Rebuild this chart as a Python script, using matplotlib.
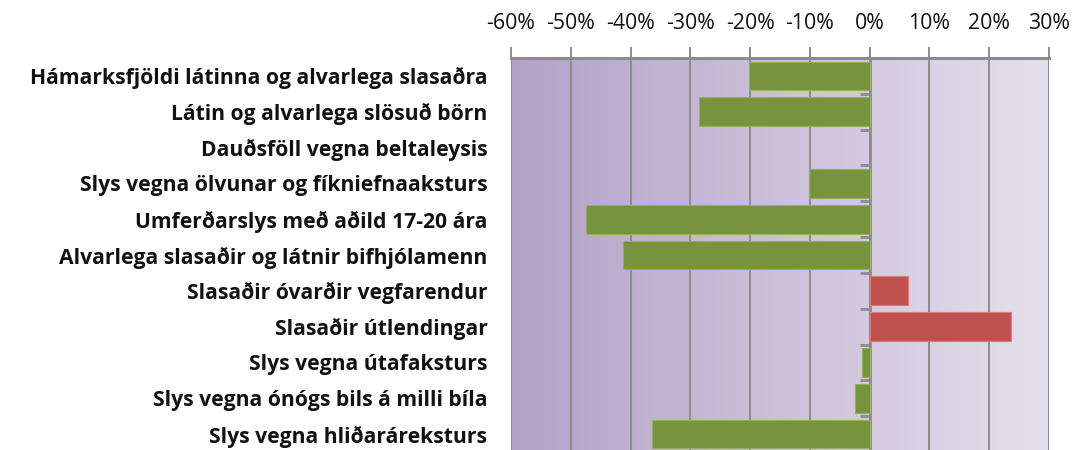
import numpy as np
import matplotlib
matplotlib.use("Agg")
import matplotlib.pyplot as plt
from matplotlib.colors import LinearSegmentedColormap
from matplotlib.ticker import FuncFormatter

categories = [
    "Hámarksfjöldi látinna og alvarlega slasaðra",
    "Látin og alvarlega slösuð börn",
    "Dauðsföll vegna beltaleysis",
    "Slys vegna ölvunar og fíkniefnaaksturs",
    "Umferðarslys með aðild 17-20 ára",
    "Alvarlega slasaðir og látnir bifhjólamenn",
    "Slasaðir óvarðir vegfarendur",
    "Slasaðir útlendingar",
    "Slys vegna útafaksturs",
    "Slys vegna ónógs bils á milli bíla",
    "Slys vegna hliðaráreksturs",
]
change = [-20.2, -28.5, 0.0, -10.2, -47.4, -41.3, 6.4, 23.7, -1.3, -2.4, -36.4]
xticks = [-60, -50, -40, -30, -20, -10, 0, 10, 20, 30]

green = "#77933C"
red = "#C0504D"
grid_c = "#8C8C8C"

fig = plt.figure(figsize=(10.77, 4.5), dpi=100)
ax = fig.add_axes([511 / 1077, -2 / 450, 538 / 1077, 394 / 450])

n = len(categories)
ax.set_xlim(xticks[0], xticks[-1])
ax.set_ylim(n - 0.5, -0.5)

# purple gradient fill, dark on the left
cmap = LinearSegmentedColormap.from_list("bg", ["#B3A2C7", "#E4DFEC"])
ax.imshow(np.linspace(0, 1, 256)[None, :], cmap=cmap, aspect="auto",
          extent=[xticks[0], xticks[-1], n - 0.5, -0.5], zorder=0)

for x in xticks:
    ax.axvline(x, color=grid_c, lw=1.4, zorder=1)

colors = [green if v < 0 else red for v in change]
edges = ["#94AE62" if v < 0 else "#D57E7B" for v in change]
widths = [0.8 if v != 0 else 0 for v in change]
ax.barh(range(n), change, height=0.8, color=colors, edgecolor=edges,
        linewidth=widths, zorder=2)

ax.xaxis.tick_top()
ax.set_xticks(xticks)
ax.xaxis.set_major_formatter(FuncFormatter(lambda v, p: f"{v:.0f}%"))
ax.tick_params(axis="x", length=8, width=1.4, color=grid_c, pad=9,
               labelsize=15.3, labelcolor="#111111")
for lbl in ax.get_xticklabels():
    lbl.set_family("Open Sans")

ax.set_yticks(range(n))
ax.set_yticklabels(categories, family="Open Sans", fontweight="bold",
                   fontsize=15.2, color="#111111")
ax.tick_params(axis="y", length=0, pad=17)

for side in ["right", "bottom", "left"]:
    ax.spines[side].set_visible(False)
ax.spines["top"].set_color(grid_c)
ax.spines["top"].set_linewidth(2.2)

# category axis sits on the 0% line with ticks between bars
zero_pos = (0 - xticks[0]) / (xticks[-1] - xticks[0])
cat_ax = ax.secondary_yaxis(zero_pos)
cat_ax.set_alignment("left")
cat_ax.set_yticks(np.arange(n + 1) - 0.5)
cat_ax.set_yticklabels([])
cat_ax.tick_params(length=7, width=2, color=grid_c)
cat_ax.spines["left"].set_color(grid_c)
cat_ax.spines["left"].set_linewidth(2)

fig.savefig("out.png", dpi=100)
